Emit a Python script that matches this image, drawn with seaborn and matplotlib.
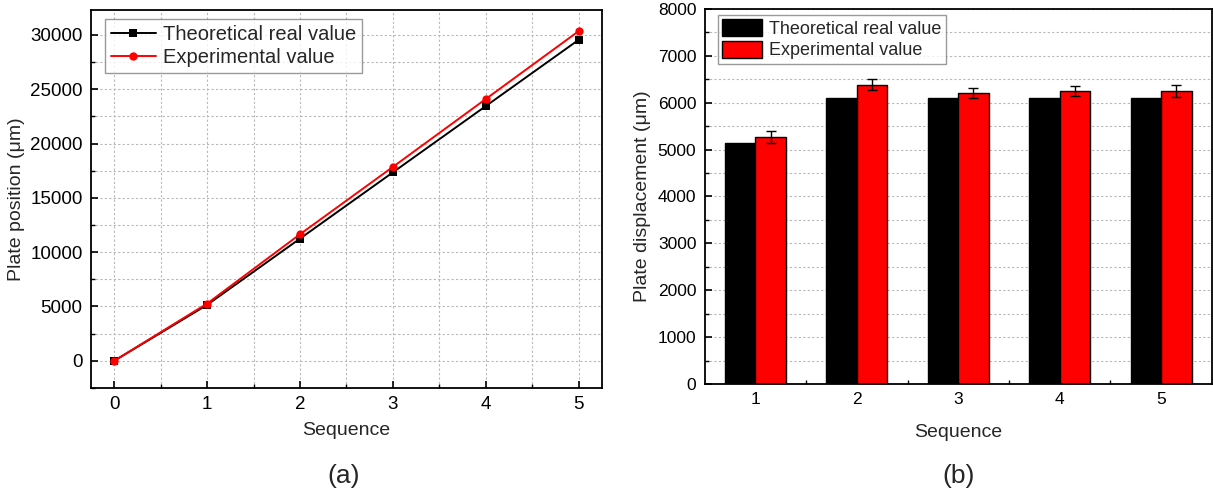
import numpy as np
import pandas as pd
import matplotlib
matplotlib.use("Agg")
import matplotlib.pyplot as plt
from matplotlib.ticker import MultipleLocator, FixedLocator
import seaborn as sns

# data
sequence = [0, 1, 2, 3, 4, 5]
theoretical_pos = [0, 5150, 11250, 17350, 23450, 29550]
experimental_pos = [0, 5270, 11650, 17850, 24100, 30350]

steps = ["1", "2", "3", "4", "5"]
theoretical_disp = [5150, 6100, 6100, 6100, 6100]
experimental_disp = [5270, 6380, 6200, 6250, 6250]
experimental_err = [135, 120, 110, 100, 135]

series_names = ["Theoretical real value", "Experimental value"]
series_colors = ["black", "red"]


sns.set_style("ticks")
plt.rcParams["font.family"] = ["Liberation Sans", "DejaVu Sans"]
plt.rcParams["axes.linewidth"] = 1.3

df_a = pd.DataFrame({
    "Sequence": sequence * 2,
    "Position": theoretical_pos + experimental_pos,
    "Series": [series_names[0]] * len(sequence) + [series_names[1]] * len(sequence),
})
df_b = pd.DataFrame({
    "Sequence": steps * 2,
    "Displacement": theoretical_disp + experimental_disp,
    "Series": [series_names[0]] * len(steps) + [series_names[1]] * len(steps),
})

fig = plt.figure(figsize=(12.13, 4.93), dpi=100)
ax1 = fig.add_axes([0.075, 0.213, 0.4213, 0.767])
ax2 = fig.add_axes([0.581, 0.221, 0.418, 0.761])

grid_kw = dict(color="#b8b8b8", linestyle=(0, (2, 2)), linewidth=0.8)


def style_axes(ax, labelsize):
    for side in ["top", "right", "left", "bottom"]:
        ax.spines[side].set_visible(True)
        ax.spines[side].set_color("black")
    ax.tick_params(which="both", direction="in", top=False, right=False,
                   labelsize=labelsize, colors="black", pad=6)
    ax.tick_params(which="major", length=5, width=1.2)
    ax.tick_params(which="minor", length=3, width=1.0)
    ax.set_axisbelow(True)


# ---- (a) line chart ----
sns.lineplot(data=df_a, x="Sequence", y="Position", hue="Series", style="Series",
             palette=series_colors, markers=["s", "o"], dashes=False,
             markersize=6, markeredgewidth=0, linewidth=1.4, ax=ax1)
ax1.set_xlim(-0.25, 5.25)
ax1.set_ylim(-2500, 32300)
ax1.xaxis.set_major_locator(MultipleLocator(1))
ax1.xaxis.set_minor_locator(MultipleLocator(0.5))
ax1.yaxis.set_major_locator(MultipleLocator(5000))
ax1.yaxis.set_minor_locator(MultipleLocator(2500))
ax1.grid(which="both", axis="both", **grid_kw)
style_axes(ax1, 13.5)
ax1.set_xlabel("Sequence", fontsize=14, labelpad=6)
ax1.set_ylabel("Plate position (\u03bcm)", fontsize=14, labelpad=4)
handles, labels = ax1.get_legend_handles_labels()
leg1 = ax1.legend(handles, labels, loc="upper left", bbox_to_anchor=(0.028, 0.977),
                  fontsize=14.5, frameon=True, fancybox=False, edgecolor="#808080",
                  handlelength=2.2, handletextpad=0.35, borderpad=0.3,
                  labelspacing=0.2, borderaxespad=0)
leg1.get_frame().set_linewidth(1.0)

# ---- (b) bar chart ----
sns.barplot(data=df_b, x="Sequence", y="Displacement", hue="Series",
            palette=series_colors, width=0.6, edgecolor="black", linewidth=1.0,
            errorbar=None, saturation=1, ax=ax2)
exp_bars = ax2.containers[1]
centers = [p.get_x() + p.get_width() / 2 for p in exp_bars]
ax2.errorbar(centers, experimental_disp, yerr=experimental_err, fmt="none",
             ecolor="black", elinewidth=1.0, capsize=3.5, capthick=1.0)
ax2.set_xlim(-0.5, 4.5)
ax2.set_ylim(0, 8000)
ax2.xaxis.set_minor_locator(FixedLocator(np.arange(0.5, 4.0, 1.0)))
ax2.yaxis.set_major_locator(MultipleLocator(1000))
ax2.yaxis.set_minor_locator(MultipleLocator(500))
ax2.grid(which="both", axis="y", **grid_kw)
ax2.grid(False, axis="x", which="both")
style_axes(ax2, 12.5)
ax2.set_xlabel("Sequence", fontsize=14, labelpad=12)
ax2.set_ylabel("Plate displacement (\u03bcm)", fontsize=14, labelpad=5)
h2, l2 = ax2.get_legend_handles_labels()
leg2 = ax2.legend(h2, l2, loc="upper left", bbox_to_anchor=(0.026, 0.985),
                  fontsize=13, frameon=True, fancybox=False, edgecolor="#808080",
                  handlelength=2.2, handleheight=1.1, handletextpad=0.4,
                  borderpad=0.25, labelspacing=0.15, borderaxespad=0)
leg2.get_frame().set_linewidth(1.0)

fig.text(0.283, 0.035, "(a)", fontsize=19, ha="center", va="center")
fig.text(0.79, 0.035, "(b)", fontsize=19, ha="center", va="center")

fig.savefig("out.png", dpi=100)
